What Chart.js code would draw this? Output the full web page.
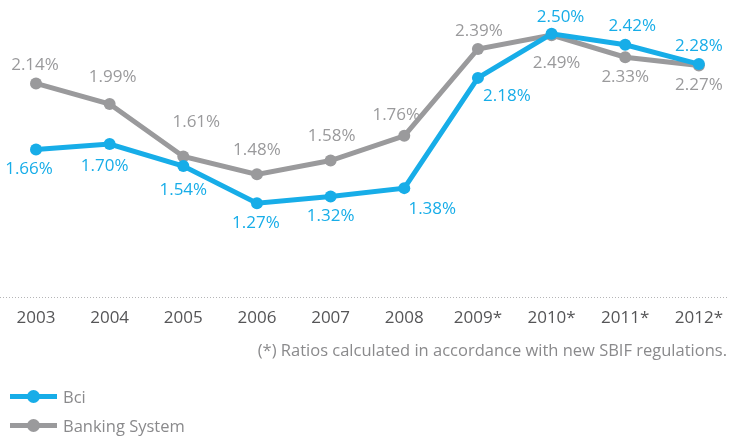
<!DOCTYPE html>
<html>
<head>
<meta charset="utf-8">
<script src="https://cdn.jsdelivr.net/npm/chart.js@4"></script>
<style>
    body { margin: 0; background: #fff; font-family: "Open Sans", sans-serif; }
    #wrap { position: relative; width: 734px; height: 438px; }
    .note { position: absolute; right: 7px; top: 338px; font-size: 16.5px; color: #8a8a8c; }
    .legend { position: absolute; left: 10px; font-size: 16.5px; color: #8a8a8c; display: flex; align-items: center; }
    .legend .swatch { position: relative; width: 47px; height: 5px; margin-right: 6px; }
    .legend .swatch span { position: absolute; left: 17px; top: -4px; width: 13px; height: 13px; border-radius: 50%; }
</style>
</head>
<body>
<div id="wrap">
    <canvas id="ratio-chart" width="734" height="438"></canvas>
    <div class="note">(*) Ratios calculated in accordance with new SBIF regulations.</div>
    <div class="legend" style="top: 385px;"><div class="swatch" style="background:#17ade8"><span style="background:#17ade8"></span></div>Bci</div>
    <div class="legend" style="top: 414px;"><div class="swatch" style="background:#9a9a9c"><span style="background:#9a9a9c"></span></div>Banking System</div>
</div>
<script>
// Chart data
const years = ['2003', '2004', '2005', '2006', '2007', '2008', '2009*', '2010*', '2011*', '2012*'];
const bciValues = [1.66, 1.70, 1.54, 1.27, 1.32, 1.38, 2.18, 2.50, 2.42, 2.28];
const systemValues = [2.14, 1.99, 1.61, 1.48, 1.58, 1.76, 2.39, 2.49, 2.33, 2.27];

// Label offsets relative to each point (dx, dy)
const bciLabelOffsets = [[-7, 20], [-5, 22], [0, 24], [-1, 20], [0, 20], [28, 21], [29, 18], [9, -17], [7, -19], [0, -18]];
const systemLabelOffsets = [[-1, -18], [3, -27], [13, -34], [0, -24], [1, -24], [-8, -21], [1, -18], [5, 28], [0, 20], [0, 20]];

const BCI_COLOR = '#17ade8';
const SYSTEM_COLOR = '#9a9a9c';

// Draws the % value next to each point
const valueLabels = {
    id: 'valueLabels',
    afterDatasetsDraw(chart) {
        const ctx = chart.ctx;
        ctx.save();
        ctx.font = '17px "Open Sans", sans-serif';
        ctx.textAlign = 'center';
        ctx.textBaseline = 'middle';
        chart.data.datasets.forEach((ds, i) => {
            const meta = chart.getDatasetMeta(i);
            const offsets = i === 0 ? bciLabelOffsets : systemLabelOffsets;
            ctx.fillStyle = ds.borderColor;
            meta.data.forEach((pt, j) => {
                ctx.fillText(ds.data[j].toFixed(2) + '%', pt.x + offsets[j][0], pt.y + offsets[j][1]);
            });
        });
        ctx.restore();
    }
};

// Dotted baseline across the full width
const baseline = {
    id: 'baseline',
    beforeDatasetsDraw(chart) {
        const ctx = chart.ctx;
        const y = chart.chartArea.bottom + 0.5;
        ctx.save();
        ctx.strokeStyle = '#b5b5b7';
        ctx.lineWidth = 1;
        ctx.setLineDash([1, 2]);
        ctx.beginPath();
        ctx.moveTo(0, y);
        ctx.lineTo(728, y);
        ctx.stroke();
        ctx.restore();
    }
};

new Chart(document.getElementById('ratio-chart').getContext('2d'), {
    type: 'line',
    data: {
        labels: years,
        datasets: [
            {
                label: 'Bci',
                data: bciValues,
                borderColor: BCI_COLOR,
                backgroundColor: BCI_COLOR,
                borderWidth: 5,
                pointRadius: 6,
                pointBorderWidth: 0,
                tension: 0,
                clip: false
            },
            {
                label: 'Banking System',
                data: systemValues,
                borderColor: SYSTEM_COLOR,
                backgroundColor: SYSTEM_COLOR,
                borderWidth: 5,
                pointRadius: 6,
                pointBorderWidth: 0,
                tension: 0,
                clip: false
            }
        ]
    },
    options: {
        responsive: false,
        animation: false,
        layout: {
            padding: { left: 36, right: 30, top: 20, bottom: 101 }
        },
        plugins: {
            legend: { display: false },
            tooltip: { enabled: false }
        },
        scales: {
            x: {
                offset: false,
                grid: { display: false, drawTicks: false },
                border: { display: false },
                ticks: {
                    color: '#555557',
                    padding: 11,
                    maxRotation: 0,
                    font: { family: '"Open Sans", sans-serif', size: 17 }
                },
                afterFit(scale) { scale.height = 40; }
            },
            y: {
                display: false,
                min: 0.59,
                max: 2.60
            }
        }
    },
    plugins: [baseline, valueLabels]
});
</script>
</body>
</html>
